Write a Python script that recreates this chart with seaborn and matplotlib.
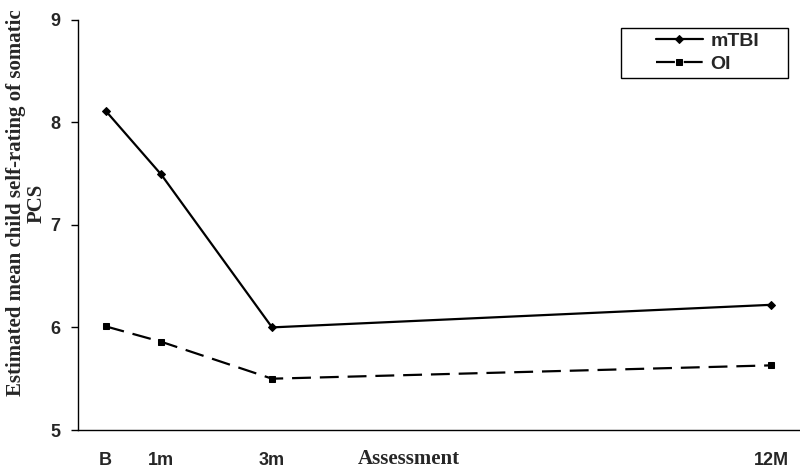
import numpy as np
import pandas as pd
import seaborn as sns
import matplotlib.pyplot as plt
from matplotlib.patches import Rectangle

# veriler - ay cinsinden ölçüm zamanları
months = [0, 1, 3, 12]
tick_labels = ["B", "1m", "3m", "12M"]
mtbi = [8.11, 7.49, 6.00, 6.22]
oi = [6.01, 5.86, 5.50, 5.63]

df = pd.DataFrame({"month": months, "mTBI": mtbi, "OI": oi})

sns.set_style("white")
plt.rcParams["font.family"] = ["Liberation Sans", "DejaVu Sans"]

fig = plt.figure(figsize=(8, 4.74), dpi=100)
ax = fig.add_axes([0.0975, 0.0928, 0.901, 0.866])

sns.lineplot(data=df, x="month", y="mTBI", ax=ax, color="black", lw=1.6,
             marker="D", markersize=4.5, markeredgecolor="black", label="mTBI")
sns.lineplot(data=df, x="month", y="OI", ax=ax, color="black", lw=1.6,
             marker="s", markersize=5, markeredgecolor="black",
             dashes=(8.5, 4), label="OI")

# eksenler
ax.set_xlim(-0.5, 12.5)
ax.set_ylim(5, 9)
ax.set_xticks(months)
ax.set_xticklabels(tick_labels, fontweight="bold", fontsize=13)
ax.set_xticks(np.arange(-0.5, 13, 1), minor=True)
ax.tick_params(axis="x", which="major", length=0, pad=16)
ax.tick_params(axis="x", which="minor", length=5, width=1, direction="out", color="black")
ax.set_yticks([5, 6, 7, 8, 9])
ax.set_yticklabels(["5", "6", "7", "8", "9"], fontweight="bold", fontsize=13)
ax.tick_params(axis="y", length=5, width=1, direction="out", color="black", left=True, pad=8)

for side in ["top", "right"]:
    ax.spines[side].set_visible(False)
for side in ["left", "bottom"]:
    ax.spines[side].set_color("black")
    ax.spines[side].set_linewidth(1)

ax.set_xlabel("Assessment", family="Liberation Serif", fontweight="bold", fontsize=15)
ax.xaxis.set_label_coords(0.459, -0.046)
ax.set_ylabel("Estimated mean child self-rating of somatic\nPCS", family="Liberation Serif",
              fontweight="bold", fontsize=15, linespacing=1.1)
ax.yaxis.set_label_coords(-0.043, 0.553)

# legend - çerçeveyi ayrıca çiziyoruz
leg = ax.legend(loc="upper left", bbox_to_anchor=(0.802, 0.9695), frameon=False,
                handlelength=2.4, handletextpad=0.4,
                borderpad=0, labelspacing=0.3, borderaxespad=0,
                prop={"weight": "bold", "size": 14})
ax.add_patch(Rectangle((0.753, 0.8575), 0.232, 0.1215, transform=ax.transAxes,
                       fill=False, edgecolor="black", lw=1, clip_on=False))

fig.savefig("out.png", dpi=100)
